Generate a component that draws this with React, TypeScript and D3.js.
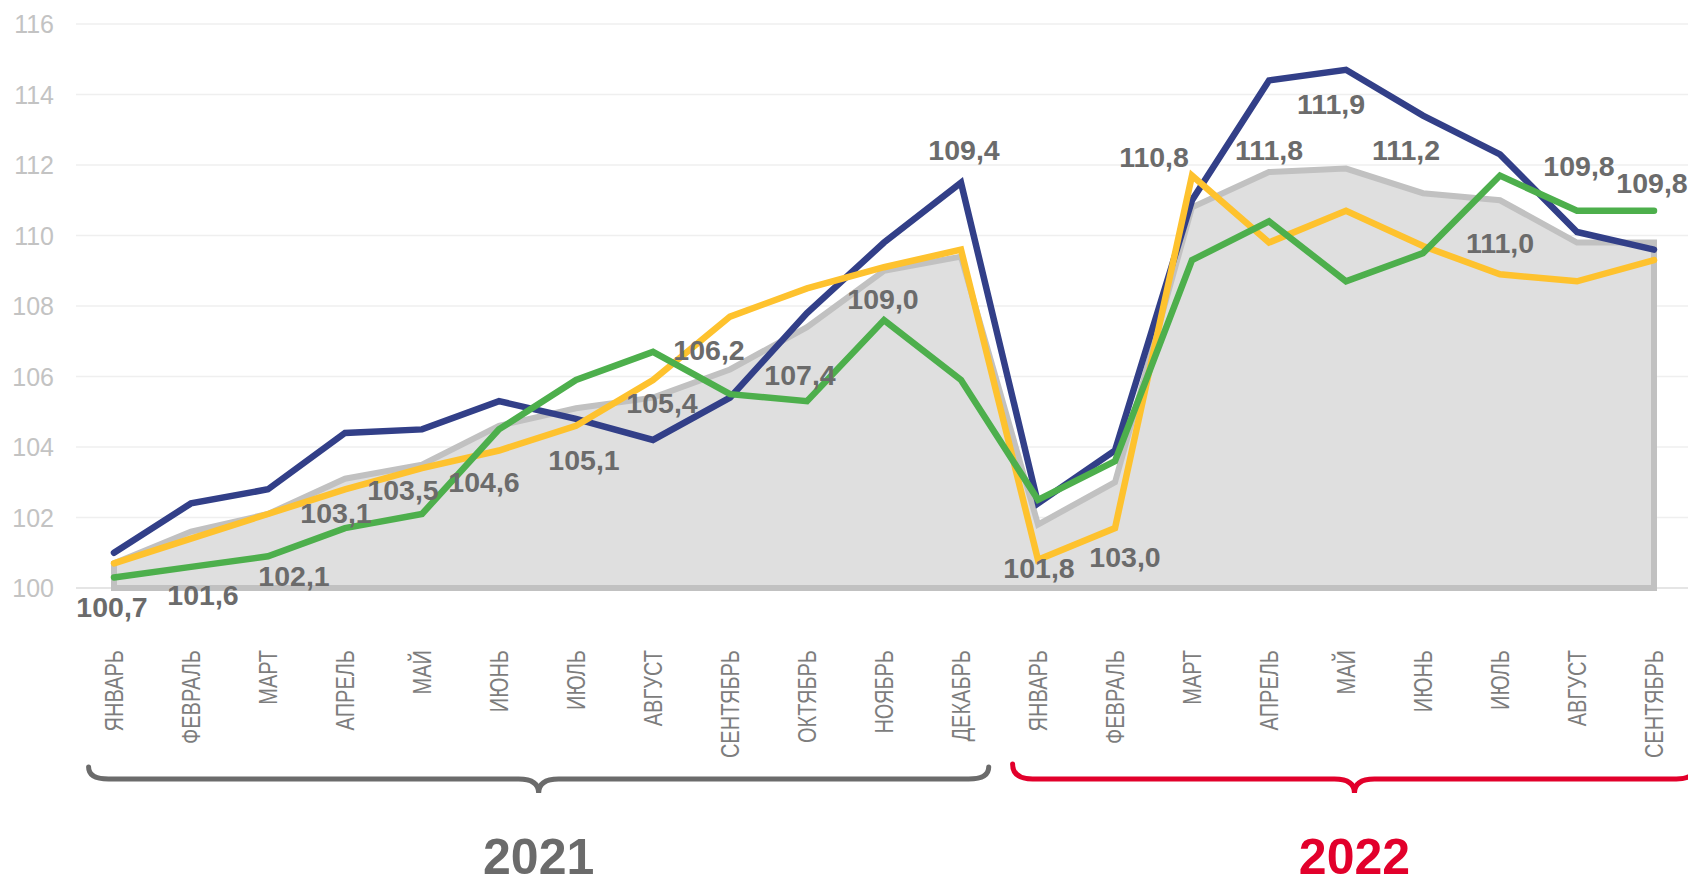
import React from "react";
import * as d3 from "d3";

// ---- data ----
const months = [
  "ЯНВАРЬ", "ФЕВРАЛЬ", "МАРТ", "АПРЕЛЬ", "МАЙ", "ИЮНЬ", "ИЮЛЬ", "АВГУСТ",
  "СЕНТЯБРЬ", "ОКТЯБРЬ", "НОЯБРЬ", "ДЕКАБРЬ",
  "ЯНВАРЬ", "ФЕВРАЛЬ", "МАРТ", "АПРЕЛЬ", "МАЙ", "ИЮНЬ", "ИЮЛЬ", "АВГУСТ", "СЕНТЯБРЬ",
];
const years = ["2021", "2022"];
const yearMonthCounts = [12, 9];
const yTicks = [100, 102, 104, 106, 108, 110, 112, 114, 116];

// labelled grey area series
const areaSeries = [100.7, 101.6, 102.1, 103.1, 103.5, 104.6, 105.1, 105.4, 106.2, 107.4, 109.0, 109.4,
  101.8, 103.0, 110.8, 111.8, 111.9, 111.2, 111.0, 109.8, 109.8];
const blueSeries = [101.0, 102.4, 102.8, 104.4, 104.5, 105.3, 104.8, 104.2, 105.4, 107.8, 109.8, 111.5,
  102.4, 103.9, 111.0, 114.4, 114.7, 113.4, 112.3, 110.1, 109.6];
const yellowSeries = [100.7, 101.4, 102.1, 102.8, 103.4, 103.9, 104.6, 105.9, 107.7, 108.5, 109.1, 109.6,
  100.8, 101.7, 111.7, 109.8, 110.7, 109.7, 108.9, 108.7, 109.3];
const greenSeries = [100.3, 100.6, 100.9, 101.7, 102.1, 104.5, 105.9, 106.7, 105.5, 105.3, 107.6, 105.9,
  102.5, 103.6, 109.3, 110.4, 108.7, 109.5, 111.7, 110.7, 110.7];

// ---- layout (label nudges, px) ----
const labelDx = [-2, 12, 26, -9, -19, -15, 8, 9, -21, -7, -1, 3, 1, 10, -38, 0, -15, -17, 0, 2, -2];
const labelDy = [54, 73, 72, 44, 35, 66, 62, 15, -9, 58, 38, -97, 53, 85, -40, -12, -55, -33, 53, -67, -50];

const FONT = "'Liberation Sans', Arial, Helvetica, sans-serif";

function bracePath(x1: number, x2: number, yTop: number, yLine: number, yTip: number, r: number) {
  const mid = (x1 + x2) / 2;
  return [
    `M${x1},${yTop}`,
    `Q${x1},${yLine} ${x1 + r},${yLine}`,
    `L${mid - r},${yLine}`,
    `Q${mid},${yLine} ${mid},${yTip}`,
    `Q${mid},${yLine} ${mid + r},${yLine}`,
    `L${x2 - r},${yLine}`,
    `Q${x2},${yLine} ${x2},${yTop}`,
  ].join(" ");
}

export default function App() {
  const W = 1688, H = 888;
  const idx = d3.range(months.length);
  const x = d3.scalePoint<number>().domain(idx).range([75.5, 1692.5]).padding(0.5);
  const y = d3.scaleLinear().domain([100, 116]).range([588, 24]);
  const step = x.step();

  const line = d3.line<number>().x((_, i) => x(i)!).y((d) => y(d)).curve(d3.curveLinear);
  const area = d3.area<number>().x((_, i) => x(i)!).y0(y(100)).y1((d) => y(d));
  const fmt = (v: number) => d3.format(".1f")(v).replace(".", ",");

  const groups: { year: string; start: number; end: number }[] = [];
  let s = 0;
  yearMonthCounts.forEach((c, k) => {
    groups.push({ year: years[k], start: s, end: s + c - 1 });
    s += c;
  });
  const braceColors = ["#6b6b6b", "#e2002b"];

  return (
    <svg width={W} height={H} style={{ position: "absolute", left: 0, top: 0, background: "#fff" }}
      fontFamily={FONT}>
      {/* grid */}
      {yTicks.map((t) => (
        <g key={t}>
          <line x1={76} x2={W} y1={y(t)} y2={y(t)} stroke={t === 100 ? "#dcdcdc" : "#efefef"} strokeWidth={1.5} />
          <text x={54} y={y(t)} textAnchor="end" dominantBaseline="central" fontSize={25} fill="#c3c3c3">{t}</text>
        </g>
      ))}

      {/* grey area */}
      <path d={area(areaSeries)!} fill="#dfdfdf" stroke="#c1c1c1" strokeWidth={6} strokeLinejoin="miter" />

      {/* lines */}
      <path d={line(blueSeries)!} fill="none" stroke="#323f88" strokeWidth={6.5} strokeLinejoin="miter" strokeLinecap="round" />
      <path d={line(yellowSeries)!} fill="none" stroke="#fec22e" strokeWidth={6.5} strokeLinejoin="miter" strokeLinecap="round" />
      <path d={line(greenSeries)!} fill="none" stroke="#4daf4c" strokeWidth={6.5} strokeLinejoin="miter" strokeLinecap="round" />

      {/* data labels */}
      {areaSeries.map((v, i) => (
        <text key={i} x={x(i)! + labelDx[i]} y={y(v) + labelDy[i]} textAnchor="middle"
          fontSize={28.5} fontWeight="bold" fill="#6b6b6b">{fmt(v)}</text>
      ))}

      {/* month labels */}
      {months.map((m, i) => (
        <text key={i} transform={`translate(${x(i)},650) rotate(-90) scale(0.77,1)`}
          textAnchor="end" dominantBaseline="central" fontSize={26} fill="#7d7d7d">{m}</text>
      ))}

      {/* braces + years */}
      {groups.map((g, k) => {
        const x1 = x(g.start)! - step * 0.33;
        const x2 = x(g.end)! + (k === groups.length - 1 ? step * 0.55 : step * 0.36);
        const mid = (x1 + x2) / 2;
        return (
          <g key={g.year}>
            <path d={bracePath(x1, x2, k === 0 ? 767 : 764, 779, 793, 20)} fill="none"
              stroke={braceColors[k]} strokeWidth={5} strokeLinecap="round" />
            <text x={mid} y={874} textAnchor="middle" fontSize={50} fontWeight="bold"
              fill={braceColors[k]}>{g.year}</text>
          </g>
        );
      })}
    </svg>
  );
}
